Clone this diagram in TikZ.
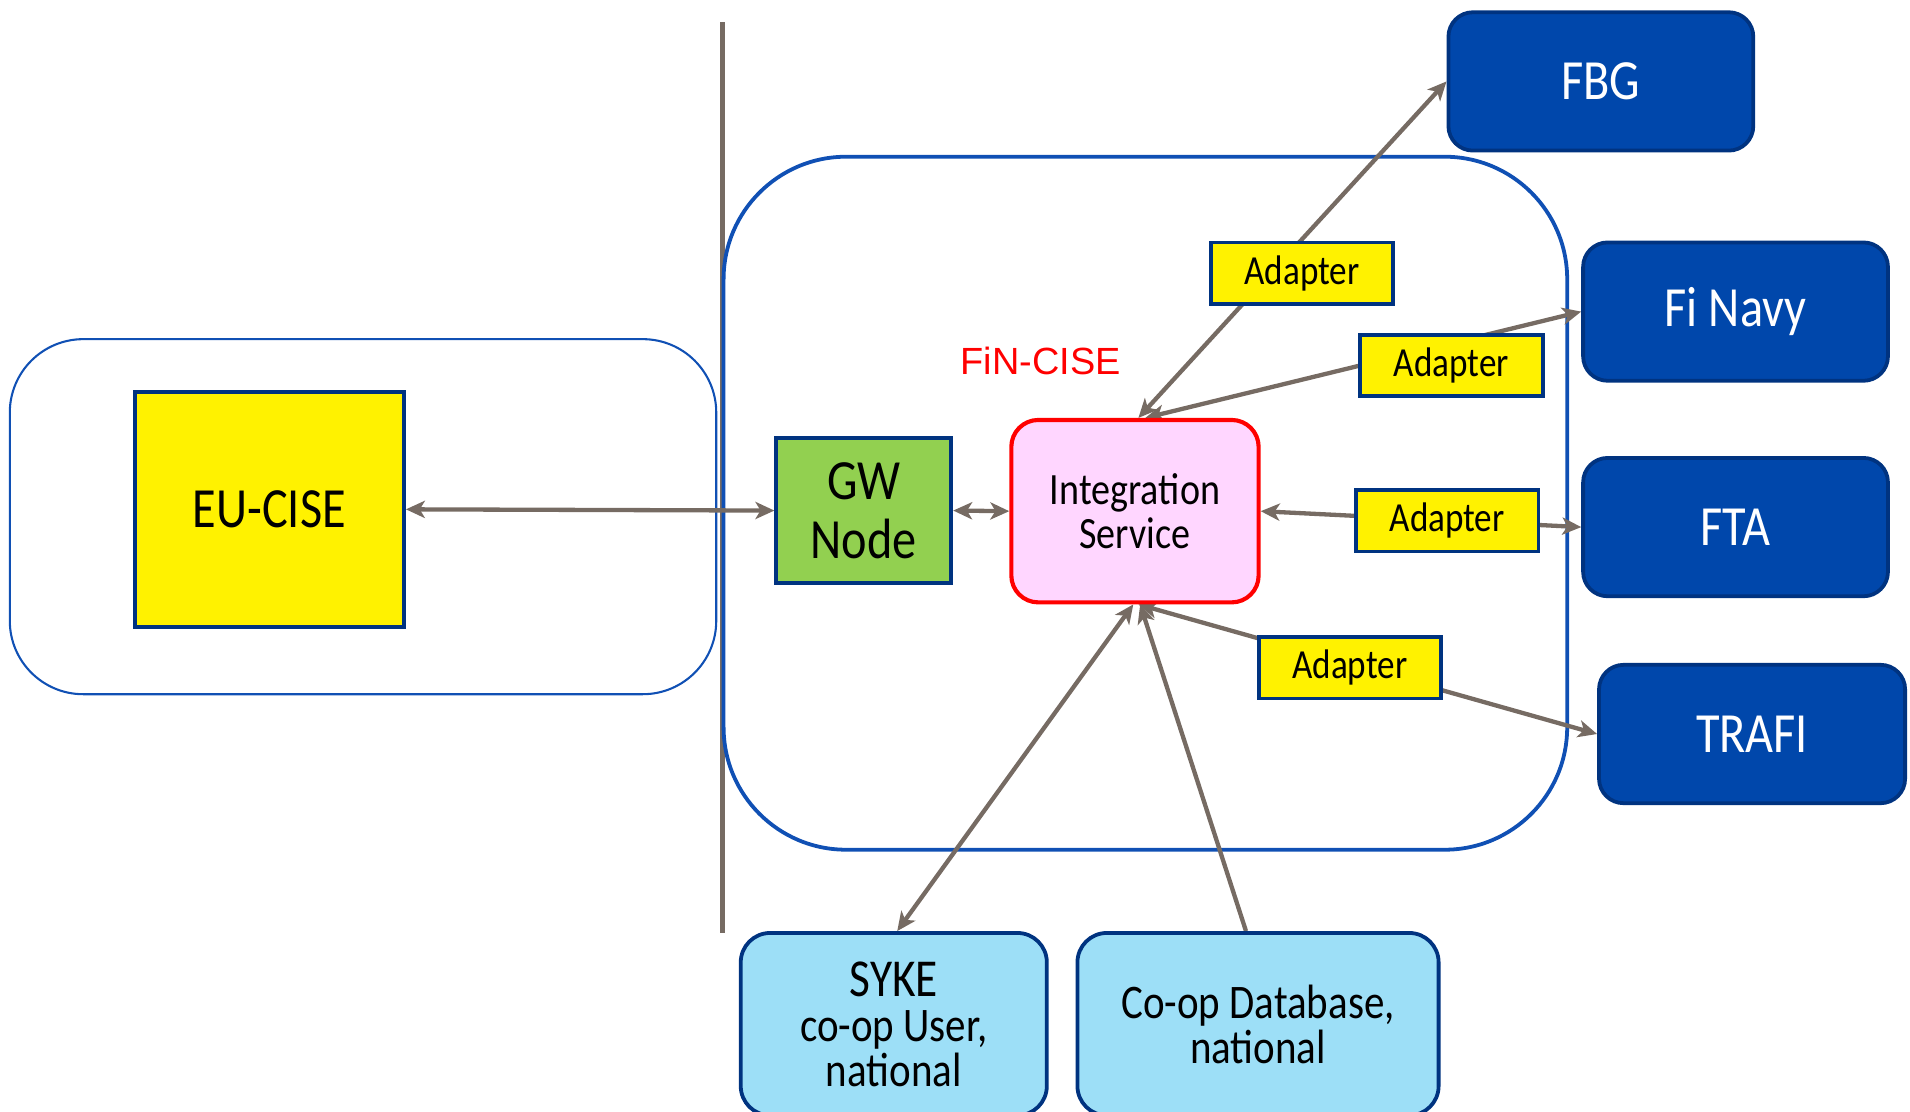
\documentclass[tikz,border=0pt]{standalone}
\usepackage{fontspec}
\setmainfont{Carlito}[FakeStretch=0.85]
\newfontfamily\arialfont{Liberation Sans}
\usepackage{tikz}
\usetikzlibrary{backgrounds,arrows.meta}

\definecolor{navyline}{RGB}{0,51,128}
\definecolor{cisblue}{RGB}{0,71,171}
\definecolor{frameblue}{RGB}{16,80,180}
\definecolor{linkgray}{RGB}{118,107,99}
\definecolor{gwgreen}{RGB}{146,208,80}
\definecolor{intpink}{RGB}{255,214,255}
\definecolor{userblue}{RGB}{157,223,247}

\newlength\px
\setlength\px{0.025cm}

\begin{document}
\begin{tikzpicture}[x=0.025cm, y=-0.025cm,
        box/.style={draw=navyline, line width=2.2pt, inner sep=0pt, align=center},
        adapter/.style={box, fill=yellow, minimum width=149\px, minimum height=50\px, font=\fontsize{24}{26}\selectfont},
        agency/.style={box, fill=cisblue, text=white, rounded corners=0.5cm, minimum width=249\px, minimum height=113\px, font=\fontsize{33}{36}\selectfont},
        user/.style={box, fill=userblue, rounded corners=0.6cm, minimum height=149\px, font=\fontsize{28}{26.3}\selectfont},
        link/.style={draw=linkgray, line width=2.5pt},
        twoway/.style={link, {Stealth[length=11pt,width=10pt,inset=3pt]}-{Stealth[length=11pt,width=10pt,inset=3pt]}},
        oneway/.style={link, -{Stealth[length=11pt,width=10pt,inset=3pt]}}]
            \useasboundingbox (0,0) rectangle (1560,908);

            \node[box, fill=yellow, minimum width=220\px, minimum height=192\px, font=\fontsize{33}{36}\selectfont] (eu) at (220,416) {EU-CISE};
            \node[box, fill=gwgreen, minimum width=143\px, minimum height=118\px, font=\fontsize{33}{34}\selectfont] (gw) at (705.5,417) {GW\\Node};
            \node[box, draw=red, line width=2.4pt, fill=intpink, rounded corners=0.55cm, minimum width=202\px, minimum height=149\px, font=\fontsize{26}{25.6}\selectfont] (int) at (927,417.5) {Integration\\Service};

            \node[text=red, font=\arialfont\fontsize{22}{24}\selectfont] (finlabel) at (850,295) {FiN-CISE};

            \node[adapter] (adfbg) at (1063.5,223) {Adapter};
            \node[adapter] (adnavy) at (1185.5,298.5) {Adapter};
            \node[adapter] (adfta) at (1182,425.5) {Adapter};
            \node[adapter] (adtrafi) at (1102.5,545.5) {Adapter};

            \node[agency] (fbg) at (1307.5,66.5) {FBG};
            \node[agency] (navy) at (1417.5,254.5) {Fi Navy};
            \node[agency] (fta) at (1417.5,430.5) {FTA};
            \node[agency, minimum width=250\px] (trafi) at (1431,599.5) {TRAFI};

            \node[user, minimum width=250\px] (syke) at (730,836.5) {{\fontsize{31}{26.3}\selectfont SYKE}\\co-op User,\\national};
            \node[user, minimum width=295\px] (coop) at (1027.5,836.5) {Co-op Database,\\national};

            \coordinate (ruletop) at (590,18);
            \coordinate (rulebot) at (590,762);

            \begin{scope}[on background layer]
                \draw[linkgray, line width=2.6pt] (ruletop) -- (rulebot);

                \draw[frameblue, line width=1.2pt, rounded corners=1.5cm] (8,277) rectangle (585,567);
                \draw[frameblue, line width=2.2pt, rounded corners=2.5cm] (591,128) rectangle (1280,694);

                \draw[twoway] (eu.east) -- (gw.west);
                \draw[twoway] (gw.east) -- (int.west);

                \draw[twoway] ([xshift=2pt]int.north) -- (fbg.west);
                \draw[twoway] ([xshift=6pt]int.north) -- (navy.west);
                \draw[twoway] (int.east) -- (fta.west);
                \draw[twoway] ([xshift=2pt]int.south) -- (trafi.west);

                \draw[twoway] ([xshift=-1pt]int.south) -- ([xshift=2pt]syke.north);
                \draw[oneway] ([xshift=-7pt]coop.north) -- ([xshift=3pt]int.south);
            \end{scope}
        \end{tikzpicture}
\end{document}
